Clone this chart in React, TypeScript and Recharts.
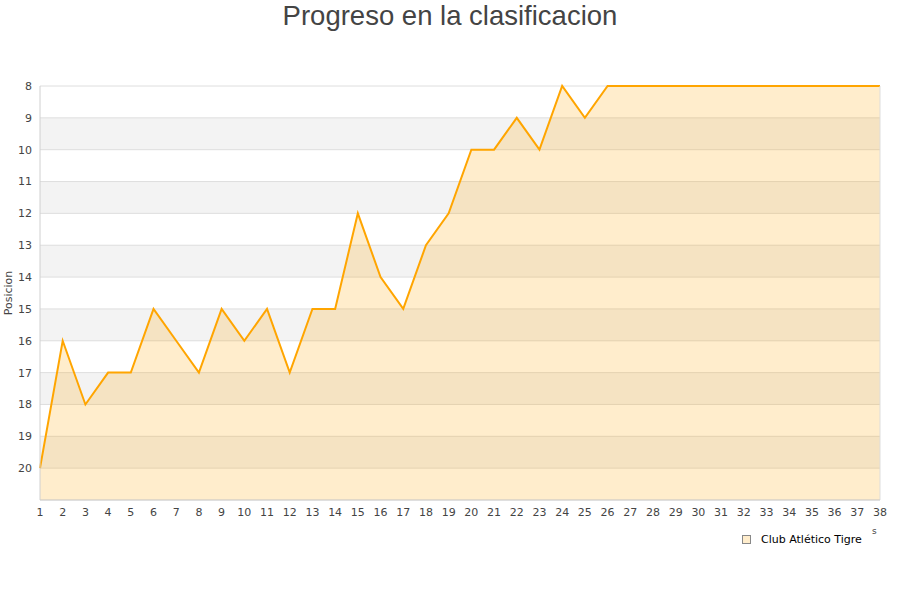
import React from 'react';
import {
  AreaChart,
  Area,
  XAxis,
  YAxis,
  CartesianGrid,
  ReferenceLine
} from 'recharts';

const rounds = Array.from({ length: 38 }, (_, i) => i + 1);
const positions = [
  20, 16, 18, 17, 17, 15, 16, 17, 15, 16,
  15, 17, 15, 15, 12, 14, 15, 13, 12, 10,
  10, 9, 10, 8, 9, 8, 8, 8, 8, 8,
  8, 8, 8, 8, 8, 8, 8, 8
];
const yTicks = [8, 9, 10, 11, 12, 13, 14, 15, 16, 17, 18, 19, 20];
const teamName = 'Club Atlético Tigre';

const data = rounds.map((r, i) => ({ jornada: r, pos: positions[i] }));

const tickStyle = { fontSize: 11, fill: '#444', fontFamily: 'DejaVu Sans' };

export default function App() {
  return (
    <div style={{ position: 'absolute', left: 0, top: 0, width: 900, height: 600, background: '#fff' }}>
      <div
        style={{
          position: 'absolute',
          top: 0,
          left: 0,
          width: 900,
          textAlign: 'center',
          fontFamily: 'Liberation Sans, Arial, sans-serif',
          fontSize: 27.5,
          color: '#444',
          lineHeight: '32px'
        }}
      >
        Progreso en la clasificacion
      </div>
      <AreaChart
        width={900}
        height={600}
        data={data}
        margin={{ top: 86, right: 20, bottom: 70, left: 0 }}
      >
        <CartesianGrid
          vertical={false}
          stroke="#dedede"
          horizontalFill={['#ffffff', '#f3f3f3']}
        />
        <XAxis
          dataKey="jornada"
          type="number"
          domain={[1, 38]}
          ticks={rounds}
          interval={0}
          tickLine={false}
          axisLine={{ stroke: '#d0d0d0' }}
          tick={tickStyle}
          height={30}
        />
        <YAxis
          type="number"
          domain={[8, 21]}
          reversed
          ticks={yTicks}
          interval={0}
          tickLine={false}
          axisLine={{ stroke: '#d0d0d0' }}
          tick={tickStyle}
          width={40}
          label={{
            value: 'Posicion',
            angle: -90,
            position: 'insideLeft',
            offset: 0,
            dx: 8,
            style: { fontSize: 11, fill: '#444', fontFamily: 'DejaVu Sans', textAnchor: 'middle' }
          }}
        />
        <ReferenceLine x={38} stroke="#dddddd" />
        <Area
          type="linear"
          dataKey="pos"
          baseValue={21}
          stroke="#FFA500"
          strokeWidth={2}
          fill="#FFA500"
          fillOpacity={0.2}
          dot={false}
          activeDot={false}
          isAnimationActive={false}
        />
      </AreaChart>
      <div
        style={{
          position: 'absolute',
          left: 742,
          top: 533,
          display: 'flex',
          alignItems: 'center',
          fontFamily: 'DejaVu Sans',
          fontSize: 11,
          color: '#000'
        }}
      >
        <span
          style={{
            display: 'inline-block',
            width: 7,
            height: 7,
            background: '#FFEDCC',
            border: '1px solid #888',
            marginRight: 10
          }}
        />
        {teamName}
      </div>
      <div
        style={{
          position: 'absolute',
          left: 872,
          top: 526,
          fontFamily: 'DejaVu Sans',
          fontSize: 9,
          color: '#444'
        }}
      >
        s
      </div>
    </div>
  );
}
